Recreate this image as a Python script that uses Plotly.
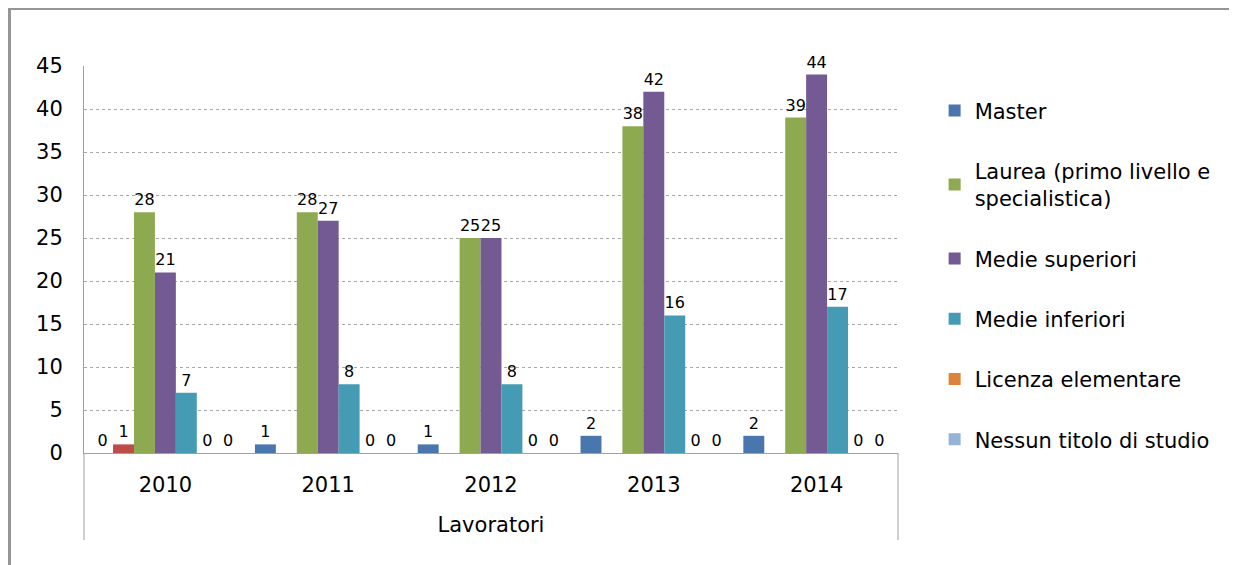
import plotly.graph_objects as go

years = ["2010", "2011", "2012", "2013", "2014"]
group_title = "Lavoratori"

master = [0, 1, 1, 2, 2]
extra_red = [1, None, None, None, None]
laurea = [28, 28, 25, 38, 39]
medie_sup = [21, 27, 25, 42, 44]
medie_inf = [7, 8, 8, 16, 17]
licenza = [0, 0, 0, 0, 0]
nessun = [0, 0, 0, 0, 0]

series = [
    ("Master", master, "#4A76AE", True),
    ("Serie extra", extra_red, "#BE4B48", False),
    ("Laurea (primo livello e<br>specialistica)", laurea, "#8DAA50", True),
    ("Medie superiori", medie_sup, "#735A93", True),
    ("Medie inferiori", medie_inf, "#459BB3", True),
    ("Licenza elementare", licenza, "#DE843A", True),
    ("Nessun titolo di studio", nessun, "#95B3D7", True),
]

FONT = "DejaVu Sans, sans-serif"

fig = go.Figure()
for i, (name, vals, color, show) in enumerate(series):
    fig.add_trace(go.Bar(
        x=years,
        y=vals,
        name=name,
        marker=dict(color=color, line=dict(color=color, width=0)),
        text=[("" if v is None else str(v)) for v in vals],
        textposition="outside",
        constraintext="none",
        textfont=dict(family=FONT, size=16, color="#000000"),
        cliponaxis=False,
        showlegend=show,
        legendgroup="g%d" % i,
    ))

# plot area in figure pixels: left 76, top 58, width 814, height 387
PW, PH = 814.0, 387.0
fig.update_layout(
    width=1229,
    height=557,
    margin=dict(l=76, r=339, t=58, b=112),
    paper_bgcolor="white",
    plot_bgcolor="white",
    barmode="group",
    bargap=0.1,
    bargroupgap=0.0,
    uniformtext=dict(mode=False),
    font=dict(family=FONT, size=21, color="#000000"),
    legend=dict(
        x=1.045, y=0.937, xanchor="left", yanchor="top",
        font=dict(family=FONT, size=21, color="#000000"),
        tracegroupgap=30,
        bgcolor="rgba(0,0,0,0)",
    ),
    xaxis=dict(
        type="category",
        showline=True, linecolor="#A0A0A0", linewidth=1,
        tickfont=dict(family=FONT, size=21, color="#000000"),
        ticks="", ticklabelstandoff=13,
        showgrid=False,
        title=dict(text=group_title, standoff=21,
                   font=dict(family=FONT, size=21, color="#000000")),
    ),
    yaxis=dict(
        range=[0, 45],
        tick0=0, dtick=5,
        showline=True, linecolor="#A0A0A0", linewidth=1,
        showgrid=True, gridcolor="#A8A8A8", griddash="dot", gridwidth=1,
        zeroline=False,
        ticks="", ticklabelstandoff=16,
        tickfont=dict(family=FONT, size=21, color="#000000"),
    ),
    shapes=[
        dict(type="rect", xref="paper", yref="paper",
             x0=-74.5 / PW, x1=1 + 400 / PW,
             y0=-200 / PH, y1=1 + 57.5 / PH,
             line=dict(color="#969696", width=3),
             fillcolor="rgba(0,0,0,0)"),
        dict(type="line", xref="paper", yref="paper",
             x0=0, x1=0, y0=0, y1=-87 / PH,
             line=dict(color="#A0A0A0", width=1)),
        dict(type="line", xref="paper", yref="paper",
             x0=1, x1=1, y0=0, y1=-87 / PH,
             line=dict(color="#A0A0A0", width=1)),
    ],
)

fig.write_html("out.html")
